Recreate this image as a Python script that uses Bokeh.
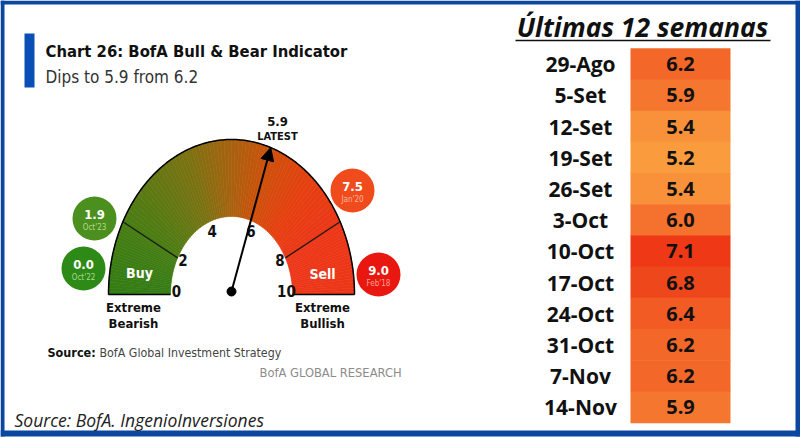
import numpy as np
from bokeh.plotting import figure
from bokeh.models import Range1d, Arrow, NormalHead, ColumnDataSource
from bokeh.core.properties import value
from bokeh.embed import file_html
from bokeh.resources import INLINE
from bokeh.transform import linear_cmap

# ---------------- data ----------------
weeks = ["29-Ago", "5-Set", "12-Set", "19-Set", "26-Set", "3-Oct",
         "10-Oct", "17-Oct", "24-Oct", "31-Oct", "7-Nov", "14-Nov"]
week_values = [6.2, 5.9, 5.4, 5.2, 5.4, 6.0, 7.1, 6.8, 6.4, 6.2, 6.2, 5.9]
latest = 5.9
previous = 6.2
gauge_ticks = [0, 2, 4, 6, 8, 10]
gauge_min, gauge_max = 0, 10
buy_level = 2
sell_level = 8
history_values = [1.9, 0.0, 7.5, 9.0]
history_dates = ["Oct'23", "Oct'22", "Jan'20", "Feb'18"]

# ---------------- layout constants ----------------
W, H = 800, 438
COND = "DejaVu Sans Condensed"
MONT = "Open Sans"

p = figure(width=W, height=H, x_range=Range1d(0, W), y_range=Range1d(H, 0),
           output_backend="svg", toolbar_location=None, min_border=0,
           x_axis_location=None, y_axis_location=None)
p.grid.visible = False
p.outline_line_color = None
p.background_fill_color = "white"
p.border_fill_color = "white"

# frame
fc = "#0b47a0"
p.quad(left=[0, 0, 795, 0], right=[800, 4, 800, 800], top=[0, 0, 0, 430],
       bottom=[4, 436, 436, 436], fill_color=fc, line_color=None)

# title block
p.quad(left=[24], right=[34], top=[33], bottom=[87], fill_color="#0a4fb5", line_color=None)
p.text(x=[45], y=[51], text=["Chart 26: BofA Bull & Bear Indicator"], text_font=value(COND),
       text_font_size="16.5px", text_font_style="bold", text_baseline="middle", text_color="#111111")
p.text(x=[45], y=[76], text=[f"Dips to {latest} from {previous}"], text_font=value(COND),
       text_font_size="17px", text_baseline="middle", text_color="#333333")

# ---------------- gauge ----------------
cx, cy = 231, 294
rxo, ryo = 123, 155
rxi, ryi = 61, 78

# gauge scale: extreme zones are drawn narrower than the middle band
scale_vals = [gauge_min, buy_level, sell_level, gauge_max]
scale_degs = [180, 152, 28, 0]


def ang(v):
    return np.deg2rad(np.interp(v, scale_vals, scale_degs))


stop_vals = [0, 2, 4, 5, 6, 7, 8, 10]
stop_cols = np.array([(50, 124, 20), (72, 126, 20), (125, 114, 18), (168, 98, 14),
                      (208, 80, 12), (230, 64, 16), (236, 56, 24), (236, 54, 24)], float)

edges = np.linspace(gauge_min, gauge_max, 121)
xs, ys, cols = [], [], []
for a, b in zip(edges[:-1], edges[1:]):
    th = np.linspace(ang(a), ang(b), 4)
    px = np.concatenate([cx + rxo * np.cos(th), cx + rxi * np.cos(th[::-1])])
    py = np.concatenate([cy - ryo * np.sin(th), cy - ryi * np.sin(th[::-1])])
    m = 0.5 * (a + b)
    c = [int(np.interp(m, stop_vals, stop_cols[:, k])) for k in range(3)]
    xs.append(list(px)); ys.append(list(py))
    cols.append("#%02x%02x%02x" % tuple(c))
p.patches(xs, ys, fill_color=cols, line_color=cols, line_width=0.6)

# outline: outer arc and base lines
th = np.linspace(ang(gauge_min), ang(gauge_max), 200)
p.line(cx + rxo * np.cos(th), cy - ryo * np.sin(th), line_color="black", line_width=1.5)
p.segment(x0=[cx - rxo, cx + rxi], y0=[cy, cy], x1=[cx - rxi, cx + rxo], y1=[cy, cy],
          line_color="black", line_width=1.5)
# zone boundaries
bz = np.array([ang(buy_level), ang(sell_level)])
p.segment(x0=cx + rxi * np.cos(bz), y0=cy - ryi * np.sin(bz),
          x1=cx + rxo * np.cos(bz), y1=cy - ryo * np.sin(bz), line_color="#1a1a1a", line_width=1.3)

# tick labels
ta = np.array([ang(t) for t in gauge_ticks])
p.text(x=cx + 55 * np.cos(ta), y=cy - 4 - 64 * np.sin(ta), text=[str(t) for t in gauge_ticks],
       text_font=value(COND), text_font_size="15px", text_font_style="bold",
       text_align="center", text_baseline="middle", text_color="#111111")

# needle
la = ang(latest)
p.add_layout(Arrow(end=NormalHead(size=13, fill_color="black", line_color="black"),
                   x_start=cx, y_start=cy - 3, x_end=cx + rxo * np.cos(la),
                   y_end=cy - ryo * np.sin(la), line_width=2, line_color="black"))
p.scatter(x=[cx], y=[cy - 3], size=9, color="black")
p.text(x=[cx + 46], y=[121], text=[f"{latest}"], text_font=value(COND), text_font_size="13px",
       text_font_style="bold", text_align="center", text_baseline="middle", text_color="#111")
p.text(x=[cx + 46], y=[136], text=["LATEST"], text_font=value(COND), text_font_size="11px",
       text_font_style="bold", text_align="center", text_baseline="middle", text_color="#111")

# zone labels
p.text(x=[139, 322], y=[272, 273], text=["Buy", "Sell"], text_font=value(COND),
       text_font_size="14px", text_font_style="bold", text_align="center",
       text_baseline="middle", text_color="white")
p.text(x=[133, 133, 322, 322], y=[307, 323, 307, 323],
       text=["Extreme", "Bearish", "Extreme", "Bullish"], text_font=value(COND),
       text_font_size="13px", text_font_style="bold", text_align="center",
       text_baseline="middle", text_color="#111")

# history circles
hx = [94, 83, 352, 378]
hy = [218, 268, 190, 274]
hfill = ["#4b8f1f", "#2e8a16", "#f04b1c", "#e8170f"]
hdate = ["#b4d98a", "#a8d890", "#ffb59a", "#ffa090"]
p.circle(x=hx, y=hy, radius=22, fill_color=hfill, line_color=None)
p.text(x=hx, y=[v - 4 for v in hy], text=[f"{v:.1f}" for v in history_values],
       text_font=value(COND), text_font_size="13px", text_font_style="bold",
       text_align="center", text_baseline="middle", text_color="white")
p.text(x=hx, y=[v + 9 for v in hy], text=history_dates, text_font=value(COND),
       text_font_size="8px", text_align="center", text_baseline="middle", text_color=hdate)

# sources
p.text(x=[47], y=[352], text=["Source:"], text_font=value(COND), text_font_size="12.5px",
       text_font_style="bold", text_baseline="middle", text_color="#111")
p.text(x=[99], y=[352], text=["BofA Global Investment Strategy"], text_font=value(COND),
       text_font_size="12.3px", text_baseline="middle", text_color="#444")
p.text(x=[259], y=[372], text=["BofA GLOBAL RESEARCH"], text_font=value(COND),
       text_font_size="12.8px", text_baseline="middle", text_color="#8c8c8c")
p.text(x=[14], y=[419], text=["Source: BofA. IngenioInversiones"], text_font=value(MONT),
       text_font_size="17.5px", text_font_style="italic", text_baseline="middle", text_color="#222")

# ---------------- table ----------------
p.text(x=[642], y=[26], text=["Últimas 12 semanas"], text_font=value(MONT),
       text_font_size="26.5px", text_font_style="bold italic", text_align="center",
       text_baseline="middle", text_color="#111")
p.segment(x0=[515], y0=[40], x1=[770], y1=[40], line_color="#111", line_width=1.6)

table_top, row_h = 48, 31.2
row_y = table_top + row_h * (np.arange(len(weeks)) + 0.5)
lo = np.array([250, 156, 62], float)
hi = np.array([238, 56, 22], float)
palette = ["#%02x%02x%02x" % tuple(int(v) for v in lo + (hi - lo) * t) for t in np.linspace(0, 1, 256)]
src = ColumnDataSource(dict(y=row_y, w=weeks, v=week_values,
                            lab=[f"{v:.1f}" for v in week_values]))
p.rect(x=680, y="y", width=100, height=row_h + 0.5, source=src, line_color=None,
       fill_color=linear_cmap("v", palette, low=min(week_values), high=max(week_values)))
p.text(x=580, y="y", text="w", source=src, text_font=value(MONT), text_font_size="21px",
       text_font_style="bold", text_align="center", text_baseline="middle", text_color="#111")
p.text(x=680, y="y", text="lab", source=src, text_font=value(MONT), text_font_size="20px",
       text_font_style="bold", text_align="center", text_baseline="middle", text_color="#111")

open("out.html", "w").write(file_html(p, INLINE))
